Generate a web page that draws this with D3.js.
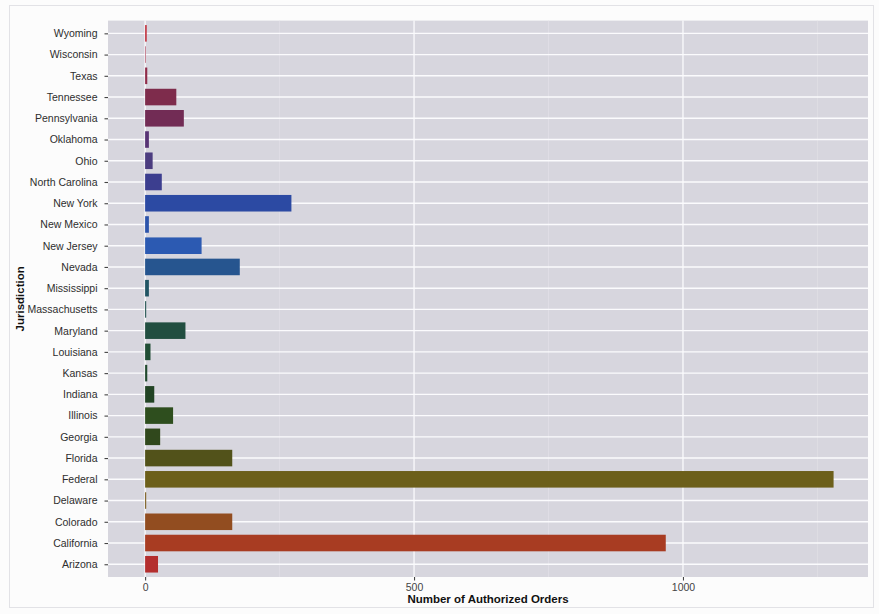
<!DOCTYPE html>
<html>
<head>
<meta charset="utf-8">
<script src="https://cdn.jsdelivr.net/npm/d3@7"></script>
<style>
  html, body { margin: 0; padding: 0; background: #fcfcfc; }
  svg { display: block; }
  text { font-family: "Liberation Sans", Arial, Helvetica, sans-serif; }
</style>
</head>
<body>
<svg id="chart" width="879" height="614"></svg>
<script>
// Authorized orders per jurisdiction (bottom-to-top order as plotted)
const jurisdictions = [
  "Arizona", "California", "Colorado", "Delaware", "Federal", "Florida",
  "Georgia", "Illinois", "Indiana", "Kansas", "Louisiana", "Maryland",
  "Massachusetts", "Mississippi", "Nevada", "New Jersey", "New Mexico",
  "New York", "North Carolina", "Ohio", "Oklahoma", "Pennsylvania",
  "Tennessee", "Texas", "Wisconsin", "Wyoming"
];
const orders = [
  24, 968, 162, 2, 1280, 162,
  28, 52, 17, 4, 10, 75,
  2, 7, 176, 105, 7,
  272, 31, 14, 7, 72,
  58, 4, 1, 3
];
const xTicks = [0, 500, 1000];
const xMinorTicks = [250, 750, 1250];
const xTitle = "Number of Authorized Orders";
const yTitle = "Jurisdiction";

// Fill colours around the hue wheel, same order as the jurisdictions
const palette = [
  "#b42e2e", "#a83c22", "#924d20", "#7a5a1a", "#6c5f1a", "#52521a",
  "#30481c", "#2e4e1e", "#224424", "#214a2e", "#214e35", "#214e40",
  "#21524f", "#215564", "#26558f", "#2c5ab2", "#2c54ab", "#2c4aa3",
  "#3c3e8f", "#4c3d80", "#583475", "#722c55", "#7e2c4c", "#902c4a",
  "#a42c46", "#c2323e"
];

const svg = d3.select("#chart");
const panel = { left: 108, right: 868, top: 20.6, bottom: 577 };

// Page frame
svg.append("rect")
  .attr("x", 9.5).attr("y", 5.5).attr("width", 864).attr("height", 602)
  .attr("fill", "none").attr("stroke", "#e2e2e6").attr("stroke-width", 1);

const maxVal = d3.max(orders);
const pad = maxVal * 0.05;
const x = d3.scaleLinear()
  .domain([-pad - 5, maxVal + pad])
  .range([panel.left, panel.right]);

// Discrete axis: first category at the bottom, 0.6-step expansion on both sides
const y = d3.scalePoint()
  .domain(jurisdictions)
  .range([panel.bottom, panel.top])
  .padding(0.6);
const barH = y.step() * 0.78;

const color = d3.scaleOrdinal().domain(jurisdictions).range(palette);

// Panel background
svg.append("rect")
  .attr("x", panel.left).attr("y", panel.top)
  .attr("width", panel.right - panel.left)
  .attr("height", panel.bottom - panel.top)
  .attr("fill", "#d7d6de");

// Grid lines
const grid = svg.append("g");
grid.selectAll(".minor").data(xMinorTicks).join("line")
  .attr("x1", d => x(d)).attr("x2", d => x(d))
  .attr("y1", panel.top).attr("y2", panel.bottom)
  .attr("stroke", "#e4e3ea").attr("stroke-width", 0.6);
grid.selectAll(".major").data(xTicks).join("line")
  .attr("x1", d => x(d)).attr("x2", d => x(d))
  .attr("y1", panel.top).attr("y2", panel.bottom)
  .attr("stroke", "#fbfbfd").attr("stroke-width", 1.3);
grid.selectAll(".hmajor").data(jurisdictions).join("line")
  .attr("x1", panel.left).attr("x2", panel.right)
  .attr("y1", d => y(d)).attr("y2", d => y(d))
  .attr("stroke", "#fbfbfd").attr("stroke-width", 1.4);

// Bars
svg.append("g").selectAll("rect")
  .data(jurisdictions.map((j, i) => ({ j, v: orders[i] })))
  .join("rect")
  .attr("x", x(0))
  .attr("y", d => y(d.j) - barH / 2)
  .attr("width", d => Math.max(0, x(d.v) - x(0)))
  .attr("height", barH)
  .attr("fill", d => color(d.j));

// Y axis (category labels)
const yAxis = d3.axisLeft(y).tickSize(3.5).tickPadding(7);
const gy = svg.append("g")
  .attr("transform", `translate(${panel.left},0)`)
  .call(yAxis);
gy.select(".domain").remove();
gy.selectAll(".tick line").attr("stroke", "#444").attr("stroke-width", 1.1);
gy.selectAll(".tick text")
  .attr("fill", "#2e2e2e")
  .style("font-size", "10.5px");

// X axis
const xAxis = d3.axisBottom(x).tickValues(xTicks).tickFormat(d3.format("d"))
  .tickSize(3.5).tickPadding(3);
const gx = svg.append("g")
  .attr("transform", `translate(0,${panel.bottom})`)
  .call(xAxis);
gx.select(".domain").remove();
gx.selectAll(".tick line").attr("stroke", "#444").attr("stroke-width", 1.1);
gx.selectAll(".tick text")
  .attr("fill", "#444")
  .style("font-size", "10.5px");

// Axis titles
svg.append("text")
  .attr("x", (panel.left + panel.right) / 2)
  .attr("y", 603)
  .attr("text-anchor", "middle")
  .attr("fill", "#111")
  .style("font-size", "11.5px")
  .style("font-weight", "bold")
  .text(xTitle);

svg.append("text")
  .attr("transform", `translate(24,${(panel.top + panel.bottom) / 2}) rotate(-90)`)
  .attr("text-anchor", "middle")
  .attr("fill", "#111")
  .style("font-size", "11.5px")
  .style("font-weight", "bold")
  .text(yTitle);
</script>
</body>
</html>
